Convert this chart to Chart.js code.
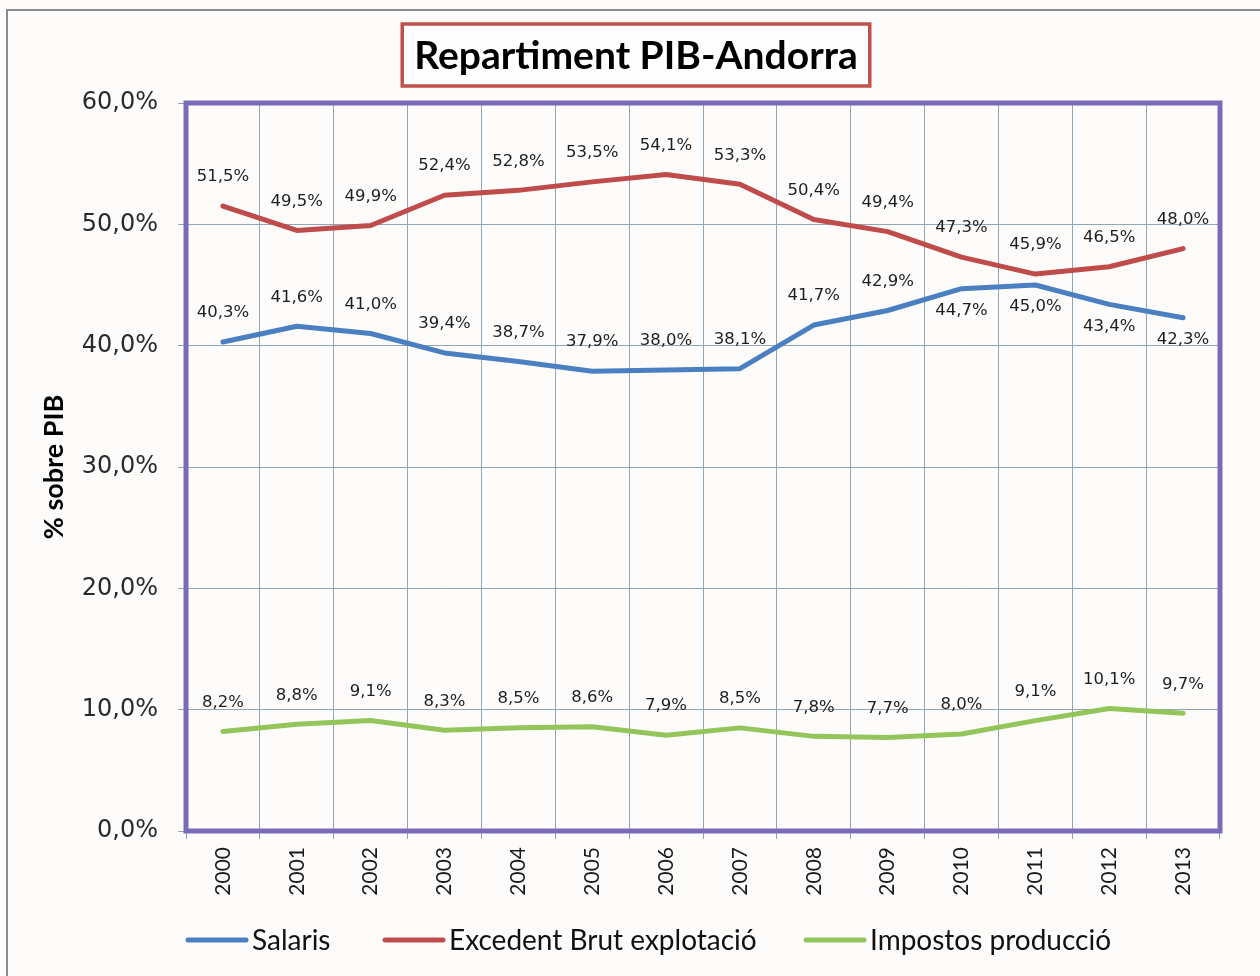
<!DOCTYPE html>
<html>
<head>
<meta charset="utf-8">
<script src="https://cdn.jsdelivr.net/npm/chart.js@4/dist/chart.umd.min.js"></script>
<style>
  html, body { margin: 0; padding: 0; background: #fdfcfa; }
  #wrap { width: 1260px; height: 976px; position: relative; }
</style>
</head>
<body>
<div id="wrap"><canvas id="c" width="1260" height="976"></canvas></div>
<script>
const years = ['2000','2001','2002','2003','2004','2005','2006','2007','2008','2009','2010','2011','2012','2013'];
const salaris   = [40.3, 41.6, 41.0, 39.4, 38.7, 37.9, 38.0, 38.1, 41.7, 42.9, 44.7, 45.0, 43.4, 42.3];
const excedent  = [51.5, 49.5, 49.9, 52.4, 52.8, 53.5, 54.1, 53.3, 50.4, 49.4, 47.3, 45.9, 46.5, 48.0];
const impostos  = [8.2, 8.8, 9.1, 8.3, 8.5, 8.6, 7.9, 8.5, 7.8, 7.7, 8.0, 9.1, 10.1, 9.7];
const seriesNames = ['Salaris', 'Excedent Brut explotació', 'Impostos producció'];
const yTicks = [0, 10, 20, 30, 40, 50, 60];
const chartTitle = 'Repartiment PIB-Andorra';
const yTitle = '% sobre PIB';

// styling (label placement per point for Salaris)
const salarisPlacement = ['a','a','a','a','a','a','a','a','a','a','b','b','b','b'];
const colors = ['#4a7fc1', '#bf4b4a', '#93c55b'];

const fmt = v => v.toFixed(1).replace('.', ',') + '%';

const decor = {
  id: 'decor',
  beforeDraw(chart) {
    const ctx = chart.ctx;
    ctx.save();
    ctx.fillStyle = '#fdfcfa';
    ctx.fillRect(0, 0, chart.width, chart.height);
    ctx.fillStyle = '#8c8c8c';
    ctx.fillRect(6, 9, chart.width - 6, 2);
    ctx.fillRect(6, 9, 2, chart.height - 9);
    ctx.restore();
  },
  afterDatasetsDraw(chart) {
    const ctx = chart.ctx;
    const a = chart.chartArea;
    ctx.save();
    // plot border
    ctx.strokeStyle = '#7c6bb9';
    ctx.lineWidth = 5;
    ctx.strokeRect(a.left, a.top, a.right - a.left, a.bottom - a.top);

    // data labels
    ctx.fillStyle = '#1e1e1e';
    ctx.font = '16.5px "DejaVu Sans"';
    ctx.textAlign = 'center';
    ctx.textBaseline = 'middle';
    chart.data.datasets.forEach((ds, di) => {
      const meta = chart.getDatasetMeta(di);
      meta.data.forEach((pt, i) => {
        let dy = -29;
        if (di === 0 && salarisPlacement[i] === 'b') dy = 22;
        ctx.fillText(fmt(ds.data[i]), pt.x, pt.y + dy);
      });
    });

    // title box
    ctx.font = 'bold 39px Lato';
    ctx.textAlign = 'center';
    ctx.textBaseline = 'middle';
    const cx = 636, cy = 56;
    const tw = ctx.measureText(chartTitle).width;
    ctx.fillStyle = '#fffefe';
    ctx.fillRect(cx - tw / 2 - 12, 24, tw + 24, 62);
    ctx.strokeStyle = '#c0504d';
    ctx.lineWidth = 3.5;
    ctx.strokeRect(cx - tw / 2 - 12, 24, tw + 24, 62);
    ctx.fillStyle = '#000';
    ctx.fillText(chartTitle, cx, cy);

    // legend
    const lx = [186, 383, 804];
    const ly = 940;
    ctx.font = '28px Lato';
    ctx.textAlign = 'left';
    ctx.textBaseline = 'middle';
    chart.data.datasets.forEach((ds, di) => {
      ctx.strokeStyle = ds.borderColor;
      ctx.lineWidth = 5;
      ctx.lineCap = 'round';
      ctx.beginPath();
      ctx.moveTo(lx[di] + 2, ly);
      ctx.lineTo(lx[di] + 60, ly);
      ctx.stroke();
      ctx.fillStyle = '#111';
      ctx.fillText(ds.label, lx[di] + 66, ly + 1);
    });
    ctx.restore();
  }
};

new Chart(document.getElementById('c'), {
  type: 'line',
  data: {
    labels: years,
    datasets: [salaris, excedent, impostos].map((d, i) => ({
      label: seriesNames[i],
      data: d,
      borderColor: colors[i],
      backgroundColor: colors[i],
      borderWidth: 5,
      pointRadius: 0,
      tension: 0,
      borderJoinStyle: 'round',
      borderCapStyle: 'round',
      fill: false
    }))
  },
  options: {
    responsive: false,
    animation: false,
    layout: { padding: { left: 0, right: 40, top: 103, bottom: 65 } },
    plugins: {
      legend: { display: false },
      title: { display: false },
      tooltip: { enabled: false }
    },
    scales: {
      x: {
        type: 'category',
        offset: true,
        grid: { offset: true, color: '#8ea6b8', lineWidth: 1, tickLength: 8, drawTicks: true },
        border: { display: false },
        ticks: {
          minRotation: 90, maxRotation: 90, autoSkip: false,
          padding: 8,
          color: '#1a1a1a',
          font: { family: 'Lato', size: 21 }
        },
        afterFit(s) { s.height = 80; }
      },
      y: {
        min: 0, max: 60,
        afterBuildTicks(s) { s.ticks = yTicks.map(v => ({ value: v })); },
        grid: { color: '#8ea6b8', lineWidth: 1, tickLength: 8 },
        border: { display: false },
        ticks: {
          padding: 20,
          color: '#2a2a2a',
          font: { family: 'DejaVu Sans', size: 24 },
          callback: v => fmt(v)
        },
        title: {
          display: true,
          text: yTitle,
          color: '#000',
          font: { family: 'Lato', size: 27, weight: 'bold' },
          padding: { top: 38, bottom: 0 }
        },
        afterFit(s) { s.width = 186; }
      }
    }
  },
  plugins: [decor]
});
</script>
</body>
</html>
